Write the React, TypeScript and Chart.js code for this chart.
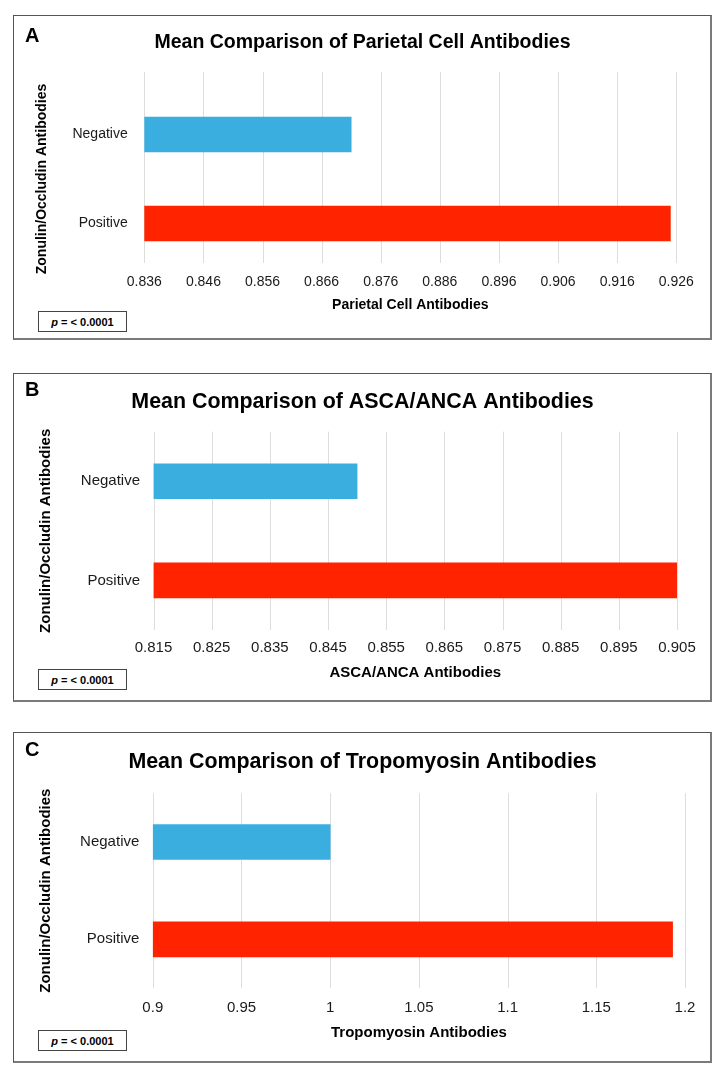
import React, { useEffect, useRef } from 'react';
import { Chart, registerables } from 'chart.js';

Chart.register(...registerables);

// ---------- data ----------
const CATEGORIES = ['Negative', 'Positive'];
const BAR_COLORS = ['#3BAEE0', '#FF2300'];

const PARIETAL_MEANS = [0.871, 0.925];
const PARIETAL_TICKS = ['0.836', '0.846', '0.856', '0.866', '0.876', '0.886', '0.896', '0.906', '0.916', '0.926'];

const ASCA_ANCA_MEANS = [0.85, 0.905];
const ASCA_ANCA_TICKS = ['0.815', '0.825', '0.835', '0.845', '0.855', '0.865', '0.875', '0.885', '0.895', '0.905'];

const TROPOMYOSIN_MEANS = [1.0, 1.193];
const TROPOMYOSIN_TICKS = ['0.9', '0.95', '1', '1.05', '1.1', '1.15', '1.2'];

const Y_TITLE = 'Zonulin/Occludin Antibodies';
const P_TEXT = '= < 0.0001';

const FONT = "'Liberation Sans', Arial, Helvetica, sans-serif";

interface PanelSpec {
  letter: string;
  title: string;
  xTitle: string;
  means: number[];
  ticks: string[];
  top: number;
  height: number;
  titleSize: number;
  titlePadTop: number;
  titlePadBottom: number;
  axisFont: number;
  axisTitleFont: number;
  yAxisWidth: number;
  padRight: number;
  xAxisHeight: number;
  xTickPad: number;
  xTitlePadBottom: number;
  yTitlePadTop: number;
  yTickPad: number;
  gridExtendTop: number;
  gridTrimBottom: number;
  letterCapTop: number;
  pTop: number;
}

const PANELS: PanelSpec[] = [
  {
    letter: 'A',
    title: 'Mean Comparison of Parietal Cell Antibodies',
    xTitle: 'Parietal Cell Antibodies',
    means: PARIETAL_MEANS,
    ticks: PARIETAL_TICKS,
    top: 15,
    height: 325,
    titleSize: 19.5,
    titlePadTop: 16.3,
    titlePadBottom: 35.3,
    axisFont: 14,
    axisTitleFont: 14,
    yAxisWidth: 131.3,
    padRight: 35.7,
    xAxisHeight: 72,
    xTickPad: 5.6,
    xTitlePadBottom: 26.6,
    yTitlePadTop: 20.3,
    yTickPad: 16.6,
    gridExtendTop: 18,
    gridTrimBottom: 5,
    letterCapTop: 13,
    pTop: 296,
  },
  {
    letter: 'B',
    title: 'Mean Comparison of ASCA/ANCA Antibodies',
    xTitle: 'ASCA/ANCA Antibodies',
    means: ASCA_ANCA_MEANS,
    ticks: ASCA_ANCA_TICKS,
    top: 373,
    height: 329,
    titleSize: 21.4,
    titlePadTop: 15.9,
    titlePadBottom: 17.1,
    axisFont: 15,
    axisTitleFont: 15,
    yAxisWidth: 140.5,
    padRight: 35,
    xAxisHeight: 72,
    xTickPad: 9,
    xTitlePadBottom: 20.3,
    yTitlePadTop: 23.5,
    yTickPad: 13.5,
    gridExtendTop: 0,
    gridTrimBottom: 0,
    letterCapTop: 8.7,
    pTop: 296,
  },
  {
    letter: 'C',
    title: 'Mean Comparison of Tropomyosin Antibodies',
    xTitle: 'Tropomyosin Antibodies',
    means: TROPOMYOSIN_MEANS,
    ticks: TROPOMYOSIN_TICKS,
    top: 732,
    height: 331,
    titleSize: 21.4,
    titlePadTop: 16.9,
    titlePadBottom: 18.7,
    axisFont: 15,
    axisTitleFont: 15,
    yAxisWidth: 139.8,
    padRight: 27,
    xAxisHeight: 75,
    xTickPad: 11,
    xTitlePadBottom: 21.3,
    yTitlePadTop: 23.5,
    yTickPad: 13.5,
    gridExtendTop: 0,
    gridTrimBottom: 0,
    letterCapTop: 10,
    pTop: 298,
  },
];

const PANEL_LEFT = 13;
const PANEL_WIDTH = 699;

const spanGridPlugin = {
  id: 'spanGrid',
  beforeDatasetsDraw(chart: any, _args: any, opts: any) {
    const { ctx, chartArea, scales } = chart;
    const x = scales.x;
    ctx.save();
    ctx.strokeStyle = opts.color || '#dcdcdc';
    ctx.lineWidth = 1;
    x.ticks.forEach((t: any) => {
      const px = Math.round(x.getPixelForValue(t.value)) + 0.5;
      ctx.beginPath();
      ctx.moveTo(px, chartArea.top - (opts.extendTop || 0));
      ctx.lineTo(px, chartArea.bottom - (opts.trimBottom || 0));
      ctx.stroke();
    });
    ctx.restore();
  },
};

function Panel({ spec }: { spec: PanelSpec }) {
  const ref = useRef<HTMLCanvasElement | null>(null);

  useEffect(() => {
    if (!ref.current) return;
    const tickValues = spec.ticks.map((t) => parseFloat(t));
    const min = tickValues[0];
    const max = tickValues[tickValues.length - 1];
    const chart = new Chart(ref.current, {
      type: 'bar',
      data: {
        labels: CATEGORIES,
        datasets: [
          {
            data: spec.means,
            backgroundColor: BAR_COLORS,
            borderWidth: 0,
            barThickness: 35,
            base: min,
          } as any,
        ],
      },
      options: {
        indexAxis: 'y',
        responsive: false,
        maintainAspectRatio: false,
        animation: false,
        layout: { padding: 0 },
        plugins: {
          legend: { display: false },
          tooltip: { enabled: false },
          title: {
            display: true,
            text: spec.title,
            color: '#000',
            font: { family: FONT, size: spec.titleSize, weight: 'bold' },
            padding: { top: spec.titlePadTop, bottom: spec.titlePadBottom },
          },
          spanGrid: {
            color: '#dddddd',
            extendTop: spec.gridExtendTop,
            trimBottom: spec.gridTrimBottom,
          },
        } as any,
        scales: {
          x: {
            type: 'linear',
            min,
            max,
            afterBuildTicks: (scale: any) => {
              scale.ticks = tickValues.map((v) => ({ value: v }));
            },
            afterFit: (scale: any) => {
              scale.height = spec.xAxisHeight;
            },
            grid: { display: false, drawTicks: false, tickLength: 0 },
            border: { display: false },
            ticks: {
              autoSkip: false,
              maxRotation: 0,
              padding: spec.xTickPad,
              color: '#1a1a1a',
              font: { family: FONT, size: spec.axisFont },
              callback: (_v: any, i: number) => spec.ticks[i],
            },
            title: {
              display: true,
              text: spec.xTitle,
              color: '#000',
              font: { family: FONT, size: spec.axisTitleFont, weight: 'bold' },
              padding: { top: 0, bottom: spec.xTitlePadBottom },
            },
          },
          y: {
            type: 'category',
            offset: true,
            afterFit: (scale: any) => {
              scale.width = spec.yAxisWidth;
            },
            grid: { display: false, drawTicks: false, tickLength: 0 },
            border: { display: false },
            ticks: {
              padding: spec.yTickPad,
              color: '#1a1a1a',
              font: { family: FONT, size: spec.axisFont },
            },
            title: {
              display: true,
              text: Y_TITLE,
              color: '#000',
              font: { family: FONT, size: spec.axisTitleFont, weight: 'bold' },
              padding: { top: spec.yTitlePadTop, bottom: 0 },
            },
          },
          // empty right-hand margin so the chart title stays centred on the whole panel
          rightMargin: {
            type: 'linear',
            position: 'right',
            display: true,
            afterFit: (scale: any) => {
              scale.width = spec.padRight;
            },
            grid: { display: false, drawTicks: false },
            border: { display: false },
            ticks: { display: false },
          },
        } as any,
      },
      plugins: [spanGridPlugin as any],
    });
    return () => chart.destroy();
  }, [spec]);

  return (
    <>
      <div
        style={{
          position: 'absolute',
          left: PANEL_LEFT,
          top: spec.top,
          width: PANEL_WIDTH,
          height: spec.height,
          boxSizing: 'border-box',
          borderTop: '1px solid #555',
          borderLeft: '1px solid #555',
          borderRight: '2px solid #7a7a7a',
          borderBottom: '2px solid #7a7a7a',
        }}
      />
      <canvas
        ref={ref}
        width={PANEL_WIDTH}
        height={spec.height}
        style={{
          position: 'absolute',
          left: PANEL_LEFT,
          top: spec.top,
          width: PANEL_WIDTH,
          height: spec.height,
        }}
      />
      <div
        style={{
          position: 'absolute',
          left: 25,
          top: spec.top + spec.letterCapTop - 2.6,
          fontFamily: FONT,
          fontWeight: 'bold',
          fontSize: 20,
          lineHeight: '20px',
          color: '#000',
        }}
      >
        {spec.letter}
      </div>
      <div
        style={{
          position: 'absolute',
          left: 38,
          top: spec.top + spec.pTop,
          width: 89,
          height: 21,
          boxSizing: 'border-box',
          border: '1px solid #444',
          display: 'flex',
          alignItems: 'center',
          justifyContent: 'center',
          fontFamily: FONT,
          fontWeight: 'bold',
          fontSize: 11,
          color: '#000',
          background: '#fff',
        }}
      >
        <span>
          <i>p</i> {P_TEXT}
        </span>
      </div>
    </>
  );
}

export default function App() {
  return (
    <div
      style={{
        position: 'absolute',
        left: 0,
        top: 0,
        width: 723,
        height: 1074,
        background: '#fff',
      }}
    >
      {PANELS.map((p) => (
        <Panel key={p.letter} spec={p} />
      ))}
    </div>
  );
}
